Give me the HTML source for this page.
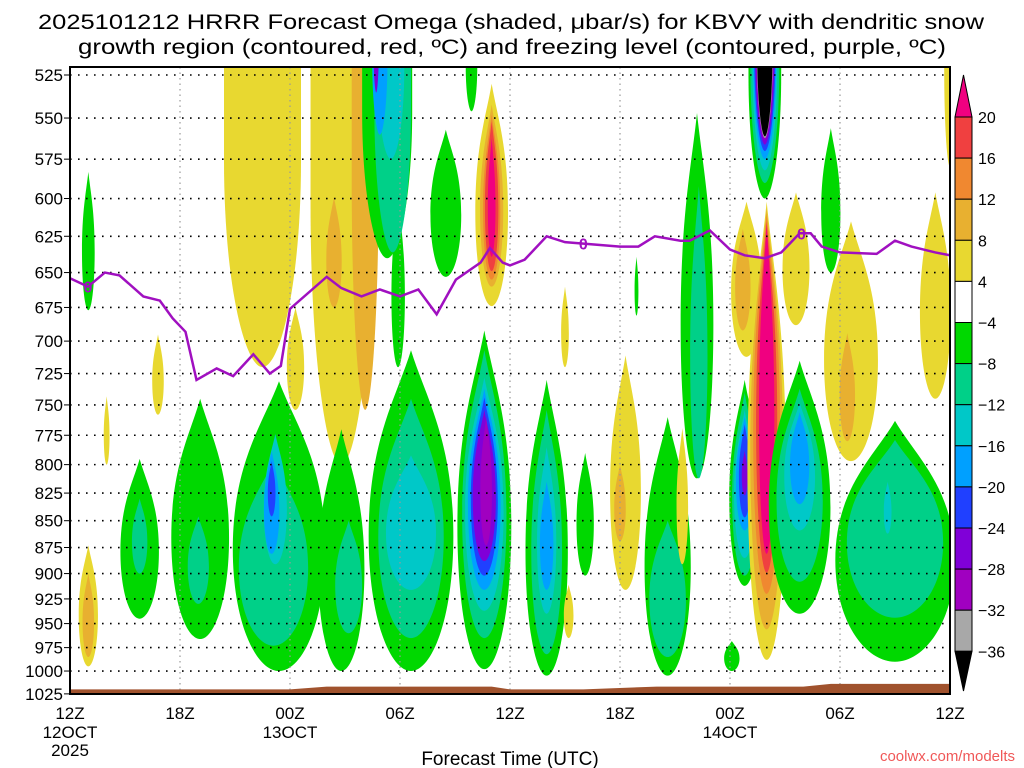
<!DOCTYPE html>
<html><head><meta charset="utf-8"><style>
html,body{margin:0;padding:0;background:#fff;width:1024px;height:768px;overflow:hidden}
svg{display:block;font-family:"Liberation Sans",sans-serif}
</style></head><body>
<svg id="chart" width="1024" height="768" viewBox="0 0 1024 768" xmlns="http://www.w3.org/2000/svg">
<defs><clipPath id="pc"><rect x="70" y="67" width="880" height="627"/></clipPath></defs>
<text x="38" y="29" font-size="21" textLength="946" lengthAdjust="spacingAndGlyphs">2025101212 HRRR Forecast Omega (shaded, μbar/s) for KBVY with dendritic snow</text>
<text x="78" y="54" font-size="21" textLength="868" lengthAdjust="spacingAndGlyphs">growth region (contoured, red, ºC) and freezing level (contoured, purple, ºC)</text>
<g id="shade" clip-path="url(#pc)"></g>
<g id="grid"></g>
<g id="terrain" clip-path="url(#pc)"></g>
<g id="fz" clip-path="url(#pc)"></g>
<rect x="70" y="67" width="880" height="627" fill="none" stroke="#000" stroke-width="2"/>
<g id="axes"></g>
<g id="cbar"></g>
<text x="510" y="765" font-size="19" text-anchor="middle">Forecast Time (UTC)</text>
<text x="1015" y="761" font-size="15" text-anchor="end" fill="#f05858">coolwx.com/modelts</text>
</svg>
<script>
const NS='http://www.w3.org/2000/svg';
const pLevels=[525,550,575,600,625,650,675,700,725,750,775,800,825,850,875,900,925,950,975,1000,1025];
const hourTicks=[0,6,12,18,24,30,36,42,48];
const hourLabels=['12Z','18Z','00Z','06Z','12Z','18Z','00Z','06Z','12Z'];
const dateLabels=[[0,'12OCT'],[12,'13OCT'],[36,'14OCT']];
const cbarTicks=[20,16,12,8,4,-4,-8,-12,-16,-20,-24,-28,-32,-36];
const cbarColors=['#f04040','#f08830','#e8b030','#e8d830','#ffffff','#00d800','#00d088','#00c8c8','#00a0ff','#2040ff','#8000d8','#a000c0','#a8a8a8'];
// blobs: [hour, half-width hours, p top, p bottom, omega value]
const blobs=[
[1,0.33,583,677,-6],[4.8,0.3,695,758,6],[2,0.15,743,800,6],[1,0.5,873,995,6],[1,0.3,900,985,10],
[3.8,1,795,945,-6],[3.8,0.4,830,900,-10],[7.1,1.5,745,966,-6],[7.0,0.55,846,930,-10],
[10.5,2.0,480,720,6],[14.8,1.6,480,800,6],[12.3,0.45,675,754,6],[16.1,0.7,480,754,10],[14.4,0.4,599,675,10],
[11.4,2.4,731,1000,-6],[14.8,1.2,770,1000,-6],[11.1,1.8,797,973,-10],[15.2,0.7,850,960,-10],[11.2,0.6,774,891,-14],[11.0,0.4,788,881,-18],[11.0,0.2,797,846,-22],
[17.3,1.3,480,640,-6],[17.9,0.35,600,720,-6],[18.6,2.2,707,1000,-6],[18.6,1.7,745,965,-10],[18.6,1.3,792,916,-14],[17.6,0.95,480,636,-10],[17.5,0.7,480,575,-14],[16.9,0.4,480,560,-18],[16.7,0.15,480,535,-26],
[20.5,0.8,557,653,-6],[21.9,0.3,500,546,-6],
[23,0.85,530,674,6],[23,0.6,542,660,10],[23,0.45,548,655,14],[23,0.35,552,649,18],[23,0.2,562,639,22],
[22.6,1.4,692,998,-6],[22.6,1.15,707,965,-10],[22.6,1.0,728,937,-14],[22.6,0.85,737,916,-18],[22.6,0.7,744,902,-22],[22.6,0.6,754,888,-26],[22.7,0.3,760,873,-30],
[26,1.1,730,1005,-6],[26,0.8,754,982,-10],[26,0.5,785,940,-14],[26,0.35,815,916,-18],
[28.1,0.45,790,902,-6],[27,0.2,660,720,6],[27.2,0.25,911,965,6],[30.9,0.1,639,681,-6],
[30.3,0.8,711,916,6],[30,0.3,800,869,10],
[32.6,1.2,760,1005,-6],[32.6,0.95,850,985,-10],[34.2,0.85,547,812,-6],[34.3,0.45,592,812,-10],[33.4,0.3,769,891,6],
[36.8,0.8,730,912,-6],[36.8,0.65,740,902,-10],[36.8,0.55,754,885,-14],[36.8,0.45,760,859,-18],[36.8,0.3,766,847,-22],[36.8,0.15,788,827,-26],[36.1,0.4,968,1000,-6],
[36.9,0.8,602,712,6],[36.7,0.4,620,692,10],
[39.6,0.7,596,688,6],[38,1.0,602,988,6],[38,0.85,606,956,10],[38,0.7,610,920,14],[38,0.55,615,899,18],[38,0.4,617,881,22],
[37.9,0.85,470,600,-6],[37.9,0.75,470,590,-10],[37.9,0.65,470,582,-14],[37.9,0.6,470,575,-18],[37.9,0.55,470,570,-22],[37.9,0.5,470,566,-26],[37.9,0.45,470,563,-30],[37.9,0.42,470,562,-34],[37.9,0.4,470,561,-38],
[39.8,1.6,715,940,-6],[39.8,1.2,737,908,-10],[39.8,0.8,748,859,-14],[39.8,0.5,756,835,-18],
[41.5,0.5,556,650,-6],[42.6,1.4,615,797,6],[42.4,0.4,694,780,10],
[45,3.1,763,990,-6],[45,2.5,779,944,-10],[44.6,0.2,815,862,-14],
[47.2,0.8,596,745,6],[48,0.3,480,580,6]
];
const fzHours=[0,0.98,1.9,2.7,4.0,4.9,5.6,6.3,6.9,8.0,8.9,10.0,10.9,11.5,12,14,14.8,15.9,16.9,18,19,20,21.05,22.4,22.9,23.6,24,24.8,26,27,28,30,31,31.9,33.3,33.8,34.9,36,36.8,37.9,38.8,39.8,40.4,41,42,44,45,45.9,47.2,48];
const fzPres=[654,660,650,652,667,670,683,693,730,721,727,710,725,719,676,653,661,667,662,667,662,680,655,643,633,643,645,641,625,629,630,632,632,625,628,628,621,634,638,640,636,623,623,632,636,637,628,632,636,638];
const fzLabelHours=[0.98,28,39.9];
const sfcHours=[0,12,14,17,23,24,26,28,32,36,40,41.5,48];
const sfcPres=[1020,1020,1017,1017,1017,1020,1020,1020,1017,1017,1017,1014,1014];

const X=h=>70+h*110/6;
const Y=p=>75+925*Math.log(p/525);
function color(v){
  if(v>20)return '#f00080'; if(v<-36)return '#000000';
  if(v>16)return '#f04040'; if(v>12)return '#f08830'; if(v>8)return '#e8b030'; if(v>4)return '#e8d830';
  if(v>-4)return '#ffffff'; if(v>-8)return '#00d800'; if(v>-12)return '#00d088'; if(v>-16)return '#00c8c8';
  if(v>-20)return '#00a0ff'; if(v>-24)return '#2040ff'; if(v>-28)return '#8000d8'; if(v>-32)return '#a000c0'; return '#a8a8a8';
}
function mk(tag,attrs,parent){const e=document.createElementNS(NS,tag);for(const k in attrs)e.setAttribute(k,attrs[k]);parent.appendChild(e);return e;}
function blobPath(cx,yt,yb,rx,topOpen){
  const h=yb-yt;
  if(topOpen){
    const ym=yt+h*0.45;
    return `M${cx-rx},${yt} L${cx+rx},${yt} L${cx+rx},${ym} C${cx+rx},${ym+(yb-ym)*0.6} ${cx+rx*0.45},${yb} ${cx},${yb} C${cx-rx*0.45},${yb} ${cx-rx},${ym+(yb-ym)*0.6} ${cx-rx},${ym} Z`;
  }
  const ym=yt+h*0.58;
  return `M${cx},${yt} C${cx+rx*0.35},${yt+h*0.15} ${cx+rx},${ym-h*0.3} ${cx+rx},${ym} C${cx+rx},${ym+(yb-ym)*0.6} ${cx+rx*0.5},${yb} ${cx},${yb} C${cx-rx*0.5},${yb} ${cx-rx},${ym+(yb-ym)*0.6} ${cx-rx},${ym} C${cx-rx},${ym-h*0.3} ${cx-rx*0.35},${yt+h*0.15} ${cx},${yt} Z`;
}
const shade=document.getElementById('shade');
blobs.forEach((b,i)=>{
  const yt=Y(b[2]),yb=Y(b[3]);
  const e=mk('path',{d:blobPath(X(b[0]),yt,yb,b[1]*110/6*1.05,b[2]<=500),fill:color(b[4])},shade);
  
  
});
const grid=document.getElementById('grid');
pLevels.forEach(p=>{
  const l=mk('line',{x1:70,x2:950,y1:Y(p),y2:Y(p),stroke:'#000','stroke-width':1.6,'stroke-dasharray':'1.6 6.4'},grid);
  
  
});
hourTicks.forEach(h=>{
  const l=mk('line',{x1:X(h),x2:X(h),y1:67,y2:694,stroke:'#999','stroke-width':1.2,'stroke-dasharray':'1.5 4'},grid);
  
  
});
const ter=document.getElementById('terrain');
let d='M'+X(sfcHours[0])+' 700';
sfcHours.forEach((h,i)=>{d+=' L'+X(h)+' '+Y(sfcPres[i]);});
d+=' L'+X(48)+' 700 Z';
const tp=mk('path',{d:d,fill:'#a0522d'},ter);


const fz=document.getElementById('fz');
const fzl=mk('polyline',{points:fzHours.map((h,i)=>X(h)+','+Y(fzPres[i])).join(' '),fill:'none',stroke:'#a010c0','stroke-width':2.5},fz);


fzLabelHours.forEach(h=>{
  let k=0;for(let i=0;i<fzHours.length-1;i++){if(fzHours[i]<=h)k=i;}
  const f=(h-fzHours[k])/(fzHours[k+1]-fzHours[k]);const p=fzPres[k]+f*(fzPres[k+1]-fzPres[k]);
  const t=mk('text',{x:X(h),y:Y(p)+6,'font-size':16,'font-weight':'bold','text-anchor':'middle',fill:'#a010c0'},fz);
  t.textContent='0';
  
  
});
const ax=document.getElementById('axes');
pLevels.forEach(p=>{
  const t=mk('text',{x:63,y:Y(p)+6,'font-size':17,'text-anchor':'end'},ax);
  t.textContent=p;
  
  
  const tk=mk('line',{x1:64,x2:70,y1:Y(p),y2:Y(p),stroke:'#000','stroke-width':1},ax);
  
  
});
hourTicks.forEach((h,i)=>{
  const t=mk('text',{x:X(h),y:719,'font-size':17,'text-anchor':'middle'},ax);
  t.textContent=hourLabels[i];
  
  
});
dateLabels.forEach(dl=>{
  const t=mk('text',{x:X(dl[0]),y:738,'font-size':17,'text-anchor':'middle'},ax);
  t.textContent=dl[1];
  
  
});
const yr=mk('text',{x:X(0),y:756,'font-size':17,'text-anchor':'middle'},ax);
yr.textContent='2025';


const cb=document.getElementById('cbar');
const cx0=955,cw=17,ctop=117,cstep=41.1;
const up=mk('polygon',{points:`${cx0},${ctop} ${cx0+cw},${ctop} ${cx0+cw/2},75`,fill:'#f00080',stroke:'#000'},cb);


cbarColors.forEach((c,i)=>{
  const r=mk('rect',{x:cx0,y:ctop+i*cstep,width:cw,height:cstep,fill:c,stroke:'#000'},cb);
  
  
});
const yb=ctop+cbarColors.length*cstep;
const dn=mk('polygon',{points:`${cx0},${yb} ${cx0+cw},${yb} ${cx0+cw/2},691`,fill:'#000',stroke:'#000'},cb);


cbarTicks.forEach((v,i)=>{
  const t=mk('text',{x:978,y:ctop+i*cstep+6,'font-size':16},cb);
  t.textContent=v<0?'\u2212'+(-v):String(v);
  
  
});
</script>
</body></html>
